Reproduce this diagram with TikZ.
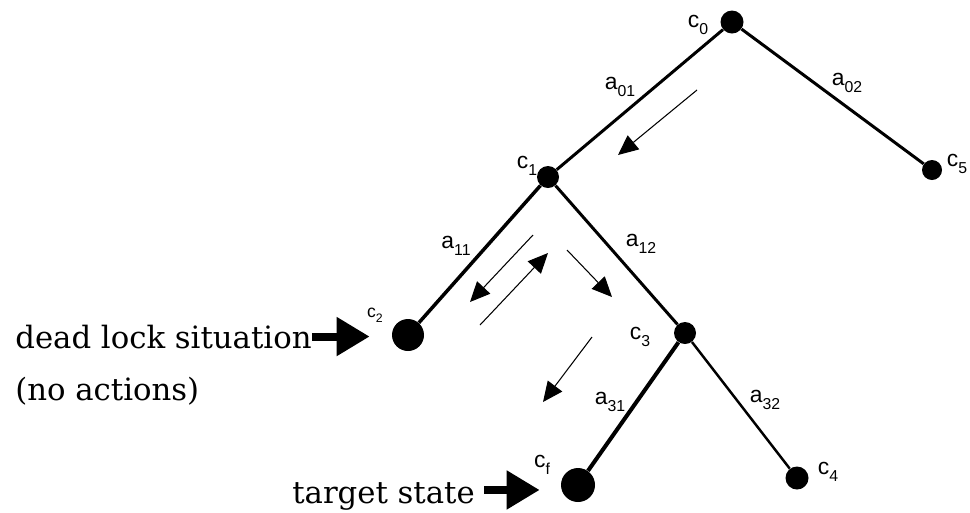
\documentclass[tikz,border=0pt]{standalone}
\usepackage{fontspec}
\usetikzlibrary{arrows.meta}
\newfontfamily\bigfont{DejaVu Serif}
\newfontfamily\labfont{Liberation Sans}
\newcommand{\sublab}[4]{{\labfont\fontsize{#3}{#3}\selectfont #1\raisebox{-0.3em}{\fontsize{#4}{#4}\selectfont #2}}}
\tikzset{
  dotnode/.style={circle,fill=black,draw=none,inner sep=0pt,minimum size=#1},
  edge/.style={line width=#1,draw=black},
  lab/.style={inner sep=0pt},
  bigtext/.style={inner sep=0pt,font=\bigfont\fontsize{17.5}{20}\selectfont},
  bigarr/.style={line width=0.16cm,-{Triangle[length=0.66cm,width=0.74cm]}},
  smallarr/.style={line width=0.6pt,-{Triangle[length=0.4cm,width=0.36cm]}}
}
\begin{document}
\begin{tikzpicture}[x=0.02cm,y=-0.02cm]
\useasboundingbox (0,0) rectangle (970,512);
% state nodes
\node[dotnode=0.46cm] (c0) at (732,22) {};
\node[dotnode=0.40cm] (c5) at (932,170) {};
\node[dotnode=0.44cm] (c1) at (548,177) {};
\node[dotnode=0.64cm] (c2) at (408,335) {};
\node[dotnode=0.44cm] (c3) at (685,333) {};
\node[dotnode=0.68cm] (cf) at (578,485) {};
\node[dotnode=0.46cm] (c4) at (797,478) {};
% edges
\draw[edge=1.7pt] (c0) -- (c1);
\draw[edge=1.7pt] (c0) -- (c5);
\draw[edge=2pt] (c1) -- (c2);
\draw[edge=1.7pt] (c1) -- (c3);
\draw[edge=2.3pt] (c3) -- (cf);
\draw[edge=1.4pt] (c3) -- (c4);
% state labels
\node[lab] (l0) at (698,25) {\sublab{c}{0}{13}{9}};
\node[lab] (l5) at (957,164) {\sublab{c}{5}{13}{9}};
\node[lab] (l1) at (527,166) {\sublab{c}{1}{13}{9}};
\node[lab] (l2) at (375,315) {\sublab{c}{2}{10}{7}};
\node[lab] (l3) at (640,337) {\sublab{c}{3}{13}{9}};
\node[lab] (lf) at (542,465) {\sublab{c}{f}{13}{9}};
\node[lab] (l4) at (828,472) {\sublab{c}{4}{13}{9}};
% action labels
\node[lab] (a01) at (620,87) {\sublab{a}{01}{13}{9}};
\node[lab] (a02) at (847,83) {\sublab{a}{02}{13}{9}};
\node[lab] (a11) at (456,246) {\sublab{a}{11}{13}{9}};
\node[lab] (a12) at (641,244) {\sublab{a}{12}{13}{9}};
\node[lab] (a31) at (610,402) {\sublab{a}{31}{13}{9}};
\node[lab] (a32) at (765,400) {\sublab{a}{32}{13}{9}};
% texts
\node[bigtext,anchor=base west] (dl) at (15,348) {dead lock situation};
\node[bigtext,anchor=base west] (na) at (15,400) {(no actions)};
\node[bigtext,anchor=base west] (ts) at (292,503) {target state};
% big arrows
\draw[bigarr,shorten >=0.44cm] (dl.east) -- (dl.east -| c2.west);
\coordinate (tsa) at ([yshift=0.12cm]ts.east);
\draw[bigarr,shorten <=0.18cm,shorten >=0.42cm] (tsa) -- (tsa -| cf.west);
% search arrows
\coordinate (s1a) at (697,90);  \coordinate (s1b) at (618,155);
\coordinate (s2a) at (533,235); \coordinate (s2b) at (470,302);
\coordinate (s3a) at (480,325); \coordinate (s3b) at (548,253);
\coordinate (s4a) at (567,250); \coordinate (s4b) at (612,297);
\coordinate (s5a) at (592,337); \coordinate (s5b) at (543,402);
\draw[smallarr] (s1a) -- (s1b);
\draw[smallarr] (s2a) -- (s2b);
\draw[smallarr] (s3a) -- (s3b);
\draw[smallarr] (s4a) -- (s4b);
\draw[smallarr] (s5a) -- (s5b);
\end{tikzpicture}
\end{document}
